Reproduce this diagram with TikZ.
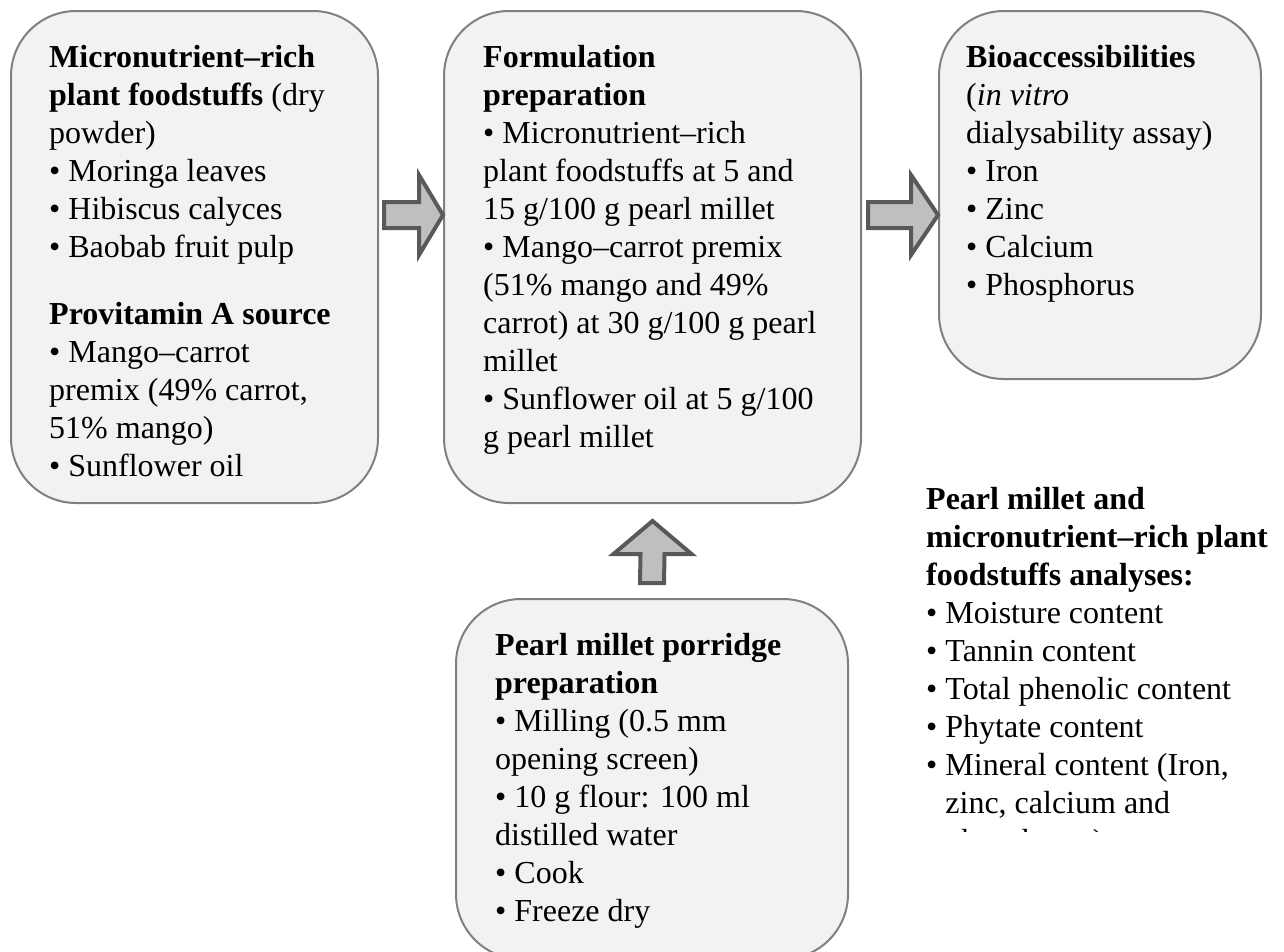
\documentclass[tikz,border=0pt]{standalone}
\usepackage{fontspec}
\setmainfont{Liberation Serif}
\usetikzlibrary{calc}
\definecolor{boxfill}{HTML}{F2F2F2}
\definecolor{boxline}{HTML}{808080}
\definecolor{arrfill}{HTML}{BFBFBF}
\definecolor{arrline}{HTML}{595959}
\tikzset{
  panel/.style={draw=boxline, fill=boxfill, line width=2pt, rounded corners=65pt, rectangle, inner sep=0pt, anchor=north west},
  txt/.style={anchor=north west, inner sep=0pt, align=left, font=\fontsize{32}{38}\selectfont},
  blockarrow/.style={draw=arrline, fill=arrfill, line width=4pt, line join=miter},
}
\newcommand{\fl}{\rule{0pt}{25.5pt}}
\begin{document}
\begin{tikzpicture}[x=1pt,y=-1pt]
\useasboundingbox (0,0) rectangle (1284,951);
\clip (0,0) rectangle (1284,951);
% boxes
\node[panel, minimum width=367pt, minimum height=492pt] (L) at (10,10) {};
\node[panel, minimum width=417pt, minimum height=492pt] (M) at (443,10) {};
\node[panel, minimum width=322pt, minimum height=368pt] (R) at (938,10) {};
\node[panel, minimum width=392pt, minimum height=360pt] (B) at (455,598) {};
% texts
\node[txt] (Lt) at (49,41.5) {\fl\textbf{Micronutrient–rich}\\
\textbf{plant foodstuffs} (dry\\
powder)\\
• Moringa leaves\\
• Hibiscus calyces\\
• Baobab fruit pulp\\[29pt]
\textbf{Provitamin A source}\\
• Mango–carrot\\
premix (49\% carrot,\\
51\% mango)\\
• Sunflower oil};
\node[txt] (Mt) at (483,41.5) {\fl\textbf{Formulation}\\
\textbf{preparation}\\
• Micronutrient–rich\\
plant foodstuffs at 5 and\\
15 g/100 g pearl millet\\
• Mango–carrot premix\\
(51\% mango and 49\%\\
carrot) at 30 g/100 g pearl\\
millet\\
• Sunflower oil at 5 g/100\\
g pearl millet};
\node[txt] (Rt) at (966,41.5) {\fl\textbf{Bioaccessibilities}\\
(\textit{in vitro}\\
dialysability assay)\\
• Iron\\
• Zinc\\
• Calcium\\
• Phosphorus};
\node[txt] (Bt) at (495,629.5) {\fl\textbf{Pearl millet porridge}\\
\textbf{preparation}\\
• Milling (0.5 mm\\
opening screen)\\
• 10 g flour: 100 ml\\
distilled water\\
• Cook\\
• Freeze dry};
\begin{scope}
\clip (900,470) rectangle (1284,831);
\node[txt] (Tt) at (926,483.5) {\fl\textbf{Pearl millet and}\\
\textbf{micronutrient–rich plant}\\
\textbf{foodstuffs analyses:}\\
• Moisture content\\
• Tannin content\\
• Total phenolic content\\
• Phytate content\\
• Mineral content (Iron,\\
\phantom{• }zinc, calcium and\\
\phantom{• }phosphorus)};
\end{scope}
% block arrows
\coordinate (a1) at ($(L.north east)+(5,205)$);
\coordinate (b1) at ($(M.north west)+(0,205)$);
\coordinate (a2) at ($(M.north east)+(6,205)$);
\coordinate (b2) at ($(R.north west)+(0,205)$);
\coordinate (u1) at ($(B.north)+(0,-15)$);
\coordinate (u2) at ($(M.south)+(0,17)$);
\draw[blockarrow] ($(a1)+(0,-13)$) -- ($(b1)+(-24,-13)$) -- ($(b1)+(-24,-40)$) -- (b1) -- ($(b1)+(-24,40)$) -- ($(b1)+(-24,13)$) -- ($(a1)+(0,13)$) -- cycle;
\draw[blockarrow] ($(a2)+(0,-13)$) -- ($(b2)+(-27,-13)$) -- ($(b2)+(-27,-40)$) -- (b2) -- ($(b2)+(-27,40)$) -- ($(b2)+(-27,13)$) -- ($(a2)+(0,13)$) -- cycle;
\draw[blockarrow] ($(u1)+(-12,0)$) -- ($(u2)+(-12,33)$) -- ($(u2)+(-39,33)$) -- (u2) -- ($(u2)+(39,33)$) -- ($(u2)+(12,33)$) -- ($(u1)+(12,0)$) -- cycle;
\end{tikzpicture}
\end{document}
